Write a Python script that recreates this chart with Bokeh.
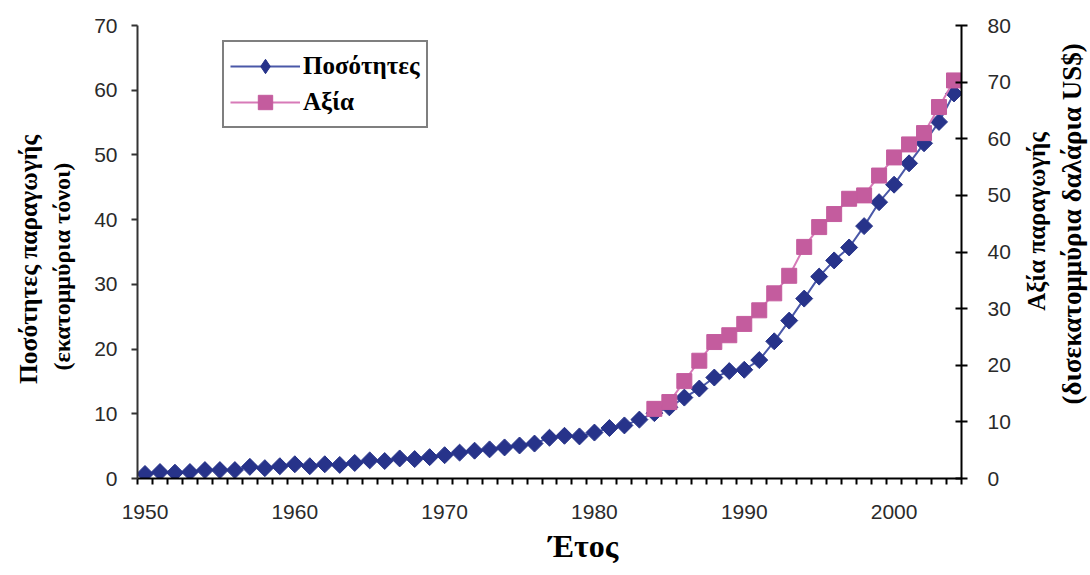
import math
from bokeh.plotting import figure
from bokeh.layouts import row
from bokeh.models import (Range1d, LinearAxis, FixedTicker, Legend, LegendItem,
                          Label, Title)
from bokeh.embed import file_html
from bokeh.resources import INLINE

# ---------------- data ----------------
years = list(range(1950, 2005))
quantity = [0.7, 1.0, 0.9, 1.0, 1.3, 1.3, 1.3, 1.8, 1.6, 1.9,
            2.2, 1.9, 2.2, 2.1, 2.4, 2.8, 2.7, 3.1, 3.0, 3.3,
            3.6, 4.0, 4.3, 4.5, 4.8, 5.1, 5.4, 6.3, 6.6, 6.5,
            7.1, 7.8, 8.2, 9.1, 10.1, 11.0, 12.5, 13.9, 15.6, 16.6,
            16.8, 18.3, 21.2, 24.4, 27.8, 31.2, 33.7, 35.7, 39.0, 42.7,
            45.4, 48.7, 51.8, 55.1, 59.5]
value_years = list(range(1984, 2005))
value = [12.3, 13.5, 17.2, 20.8, 24.1, 25.3, 27.3, 29.7, 32.7, 35.8,
         40.9, 44.4, 46.7, 49.4, 50.0, 53.5, 56.7, 59.0, 61.0, 65.6, 70.3]

x_tick_labels = [1950, 1960, 1970, 1980, 1990, 2000]
left_ticks = [0, 10, 20, 30, 40, 50, 60, 70]
right_ticks = [0, 10, 20, 30, 40, 50, 60, 70, 80]

series_names = ["Ποσότητες", "Αξία"]
y_title_left = ["Ποσότητες παραγωγής", "(εκατομμύρια τόνοι)"]
y_title_right = ["Αξία παραγωγής", "(δισεκατομμύρια δαλάρια US$)"]
x_title = "Έτος"

# ---------------- layout ----------------
H = 575
LW = 83            # left title panel width
MW = 930           # main figure width
RW = 75            # right title panel width
FL, FT, FW, FH = 54, 25, 826, 453

TITLE_FONT = "Liberation Serif"
TICK_FONT = "Liberation Sans"
TICK_COLOR = "#2a2a2a"
TICK_SIZE = "21px"

p = figure(width=MW, height=H,
           x_range=Range1d(1949.5, 2004.5), y_range=Range1d(0, 70),
           output_backend="svg", toolbar_location=None,
           min_border_left=FL, min_border_right=MW - FL - FW,
           min_border_top=FT, min_border_bottom=H - FT - FH)
p.extra_y_ranges = {"val": Range1d(0, 80)}
p.outline_line_color = None
p.xgrid.visible = False
p.ygrid.visible = False

# x axis
xa = p.xaxis[0]
xa.ticker = FixedTicker(ticks=x_tick_labels,
                        minor_ticks=[1949.5 + i for i in range(56)])
xa.major_tick_in = 0
xa.major_tick_out = 0
xa.minor_tick_in = 0
xa.minor_tick_out = 6
xa.minor_tick_line_color = "black"
xa.minor_tick_line_width = 2
xa.axis_line_color = "black"
xa.axis_line_width = 2
xa.major_label_text_font = TICK_FONT
xa.major_label_text_font_size = TICK_SIZE
xa.major_label_text_color = TICK_COLOR
xa.major_label_standoff = 20

# left axis
ya = p.yaxis[0]
ya.ticker = FixedTicker(ticks=left_ticks)
ya.minor_tick_line_color = None
ya.major_tick_in = 0
ya.major_tick_out = 6
ya.major_tick_line_width = 2
ya.major_tick_line_color = "#333333"
ya.axis_line_color = "#333333"
ya.axis_line_width = 2
ya.major_label_text_font = TICK_FONT
ya.major_label_text_font_size = TICK_SIZE
ya.major_label_text_color = TICK_COLOR
ya.major_label_standoff = 14

# right axis
ra = LinearAxis(y_range_name="val", ticker=FixedTicker(ticks=right_ticks))
ra.minor_tick_line_color = None
ra.major_tick_in = 6
ra.major_tick_out = 6
ra.major_tick_line_width = 2
ra.major_tick_line_color = "black"
ra.axis_line_color = "black"
ra.axis_line_width = 2
ra.major_label_text_font = TICK_FONT
ra.major_label_text_font_size = TICK_SIZE
ra.major_label_text_color = TICK_COLOR
ra.major_label_standoff = 20
p.add_layout(ra, "right")

# ---------------- series ----------------
NAVY = "#27338a"
NAVY_LINE = "#4a58a8"
PINK = "#c45c9e"
PINK_LINE = "#d77ab8"

lq = p.line(years, quantity, line_color=NAVY_LINE, line_width=2)
sq = p.scatter(years, quantity, marker="square", size=12, angle=math.pi / 4,
               fill_color=NAVY, line_color=NAVY, line_width=1)

lv = p.line(value_years, value, y_range_name="val", line_color=PINK_LINE, line_width=2)
sv = p.scatter(value_years, value, y_range_name="val", marker="square", size=15,
               fill_color=PINK, line_color=PINK, line_width=1)

# legend key with a diamond shape (legend glyphs ignore marker angle);
# hidden in the plot itself, only its legend glyph is drawn
sq_key = p.scatter(years, quantity, marker="diamond", size=19,
                   fill_color=NAVY, line_color=NAVY, visible=False)

legend = Legend(items=[LegendItem(label=series_names[0], renderers=[lq, sq_key]),
                       LegendItem(label=series_names[1], renderers=[lv, sv])],
                location=(85, 350))
legend.label_text_font = TITLE_FONT
legend.label_text_font_style = "bold"
legend.label_text_font_size = "25px"
legend.label_text_color = "black"
legend.glyph_width = 70
legend.glyph_height = 36
legend.label_height = 36
legend.label_standoff = 3
legend.spacing = 0
legend.padding = 6
legend.border_line_color = "black"
legend.border_line_width = 2
legend.background_fill_color = "white"
legend.background_fill_alpha = 1.0
legend.inactive_fill_alpha = 0.0
p.add_layout(legend, "center")

# x-axis title below the axis
xt = Title(text=x_title, align="left", offset=411, standoff=8,
           text_font=TITLE_FONT, text_font_style="bold",
           text_font_size="32px", text_color="black")
p.add_layout(xt, "below")


# ---------------- side panels with the vertical titles ----------------
def side_panel(width):
    f = figure(width=width, height=H, x_range=Range1d(0, width), y_range=Range1d(0, H),
               output_backend="svg", toolbar_location=None,
               x_axis_location=None, y_axis_location=None,
               min_border=0)
    f.outline_line_color = None
    f.xgrid.visible = False
    f.ygrid.visible = False
    return f


def vtitle(f, x, y_bottom, text, size):
    # text reads bottom-to-top, anchored at its first character
    f.add_layout(Label(x=x, y=H - y_bottom, text=text, angle=math.pi / 2,
                       text_align="left", text_baseline="middle",
                       text_font=TITLE_FONT, text_font_style="bold",
                       text_font_size=size, text_color="black"))


left = side_panel(LW)
vtitle(left, 28, 455, y_title_left[0], "25.5px")
vtitle(left, 61, 438, y_title_left[1], "24px")

right = side_panel(RW)
vtitle(right, 23, 362, y_title_right[0], "25px")
vtitle(right, 58, 481, y_title_right[1], "27px")

layout = row(left, p, right, spacing=0)

open("out.html", "w").write(file_html(layout, INLINE))
